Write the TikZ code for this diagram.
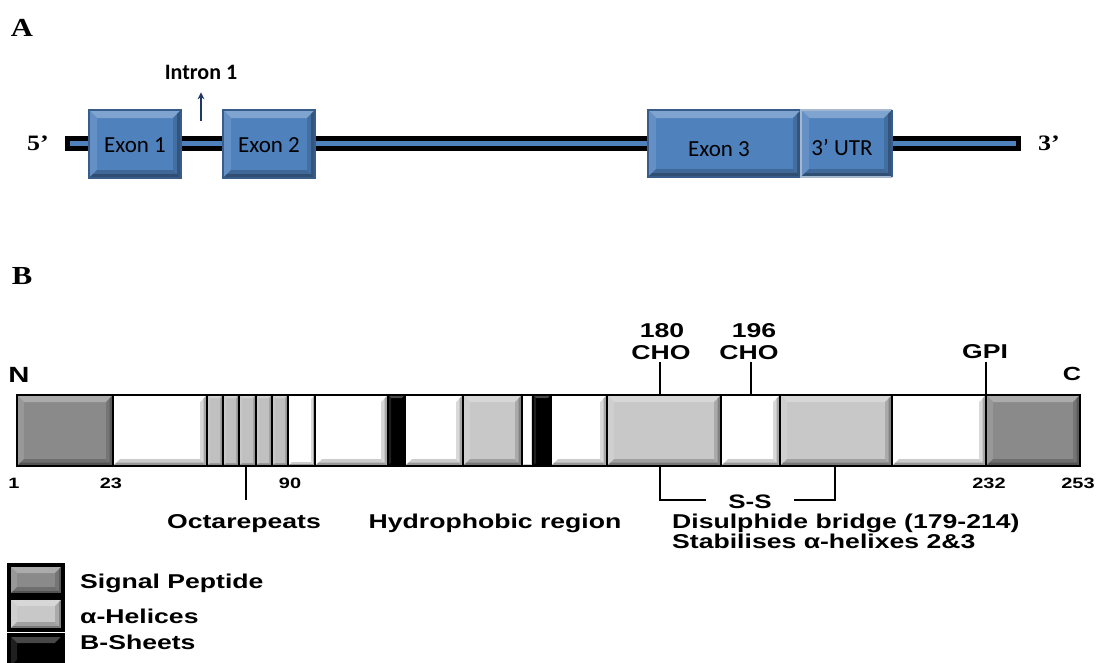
\documentclass[tikz,border=0pt]{standalone}
\usepackage{fontspec}
\setsansfont{Liberation Sans}
\newfontfamily\labfont[FakeStretch=1.33]{Liberation Sans}
\newfontfamily\serfont[FakeStretch=1.18]{Liberation Serif}
\newfontfamily\calfont{Carlito}
\usetikzlibrary{fit,arrows.meta}

\definecolor{sigc}{RGB}{138,138,138}
\definecolor{helc}{RGB}{200,200,200}
\definecolor{octc}{RGB}{192,192,192}
\definecolor{exonc}{RGB}{79,129,189}
\definecolor{exonline}{RGB}{56,93,138}
\definecolor{utrline}{RGB}{165,184,208}
\definecolor{navy}{RGB}{31,56,100}

\tikzset{
  seg/.style={fill=#1, inner sep=0pt, outer sep=0pt},
  segline/.style={draw=black, line width=2.4pt, line join=miter},
  lab/.style={font=\labfont\bfseries\fontsize{#1}{#1}\selectfont, inner sep=0pt, anchor=base},
  lab/.default=20,
  serlab/.style={font=\serfont\bfseries\fontsize{#1}{#1}\selectfont, inner sep=0pt, anchor=base},
  exlab/.style={font=\calfont\fontsize{23}{23}\selectfont, inner sep=0pt, anchor=base},
  tick/.style={draw=black, line width=2pt},
}

% raised-panel look inside a box node: [bevel width] node, colour
% (two bands per side give a soft edge)
\newcommand\bevelband[4]{% width, node, colour spec top/left/right/bottom
  \fill[#3] (#2.north west) -- (#2.north east) -- ([shift={(-#1,-#1)}]#2.north east)
    -- ([shift={(#1,-#1)}]#2.north west) -- cycle;
}
\newcommand\bevelize[3][7pt]{%
  \fill[#3!72!white]
    (#2.north west) -- (#2.north east) -- ([shift={(-#1,-#1)}]#2.north east)
    -- ([shift={(#1,-#1)}]#2.north west) -- cycle;
  \fill[#3!88!white]
    (#2.north west) -- ([shift={(#1,-#1)}]#2.north west)
    -- ([shift={(#1,#1)}]#2.south west) -- (#2.south west) -- cycle;
  \fill[#3!85!black]
    (#2.north east) -- ([shift={(-#1,-#1)}]#2.north east)
    -- ([shift={(-#1,#1)}]#2.south east) -- (#2.south east) -- cycle;
  \fill[#3!65!black]
    (#2.north east) -- ([shift={(-#1/2,-#1/2)}]#2.north east)
    -- ([shift={(-#1/2,#1/2)}]#2.south east) -- (#2.south east) -- cycle;
  \fill[#3!80!black]
    (#2.south west) -- ([shift={(#1,#1)}]#2.south west)
    -- ([shift={(-#1,#1)}]#2.south east) -- (#2.south east) -- cycle;
  \fill[#3!60!black]
    (#2.south west) -- ([shift={(#1/2,#1/2)}]#2.south west)
    -- ([shift={(-#1/2,#1/2)}]#2.south east) -- (#2.south east) -- cycle;
}

% protein segment: [bevel width] name, left x, right x, colour
\newcommand\protseg[5][7pt]{%
  \node[seg=#5, fit={(#3,395) (#4,466)}] (#2) {};
  \bevelize[#1]{#2}{#5}}

\begin{document}
\begin{tikzpicture}[x=1pt, y=-1pt]
\useasboundingbox (0,0) rectangle (1102,662);

% ---------------- A: gene structure ----------------
\node[serlab=26] (lA) at (22,36) {A};
\node[serlab=22] (five) at (38,150) {5’};
\node[serlab=22] (three) at (1049,150) {3’};

\fill[black] (65,136) rectangle (1021,151);
\fill[exonc] (70,141) rectangle (1016,146);

\node[seg=exonc, fit={(89,110) (181,178)}] (ex1) {};
\node[seg=exonc, fit={(223,110) (315,178)}] (ex2) {};
\node[seg=exonc, fit={(648,110) (801,177)}] (ex3) {};
\node[seg=exonc, fit={(801,110) (892,177)}] (utr) {};
\foreach \e in {ex1,ex2,ex3,utr} {\bevelize[8pt]{\e}{exonc}}
\foreach \e in {ex1,ex2,ex3}
  \draw[exonline, line width=1.4pt] (\e.south west) rectangle (\e.north east);
\draw[utrline, line width=1.6pt] (utr.south east) -- (utr.south west) -- (utr.north west) -- (utr.north east);
\draw[exonline, line width=1.4pt] (utr.north east) -- (utr.south east);

\node[exlab] (ex1t) at (135,152) {Exon 1};
\node[exlab] (ex2t) at (269,152) {Exon 2};
\node[exlab] (ex3t) at (719,156) {Exon 3};
\node[exlab] (utrt) at (842,155) {3’ UTR};

\node[font=\calfont\bfseries\fontsize{22}{22}\selectfont, inner sep=0pt, anchor=base] (intron) at (201,79) {Intron 1};
\coordinate (iarr) at (201,121);
\draw[navy, line width=2pt, -{Stealth[length=7pt,width=7pt]}] (iarr) -- ([yshift=-13pt]intron.south);

% ---------------- B: protein domains ----------------
\node[serlab=26] (lB) at (22,284) {B};

\protseg{sp1}{17}{113}{sigc}
\protseg{w1}{113}{207}{white}
\protseg[3pt]{o1}{207}{223}{octc}
\protseg[3pt]{o2}{223}{239}{octc}
\protseg[3pt]{o3}{239}{256}{octc}
\protseg[3pt]{o4}{256}{272}{octc}
\protseg[3pt]{o5}{272}{288}{octc}
\protseg[4pt]{w2}{288}{315}{white}
\protseg{w3}{315}{388}{white}
\protseg[3pt]{b1}{388}{405}{black}
\protseg{w4}{405}{463}{white}
\protseg{h1}{463}{522}{helc}
\protseg[2pt]{w5}{522}{533}{white}
\protseg[3pt]{b2}{533}{551}{black}
\protseg{w6}{551}{607}{white}
\protseg{h2}{607}{721}{helc}
\protseg{w7}{721}{780}{white}
\protseg{h3}{780}{892}{helc}
\protseg{w8}{892}{986}{white}
\protseg{sp2}{986}{1080}{sigc}
\foreach \s in {sp1,w1,o1,o2,o3,o4,o5,w2,w3,b1,w4,h1,w5,b2,w6,h2,w7,h3,w8,sp2}
  \draw[segline] (\s.south west) rectangle (\s.north east);

\node[lab=22] (nterm) at (19,382) {N};
\node[lab=19] (cterm) at (1072,380) {C};

\node[lab] (n180) at (662,337) {180};
\node[lab] (cho1) at (661,359) {CHO};
\node[lab] (n196) at (754,337) {196};
\node[lab] (cho2) at (749,359) {CHO};
\node[lab] (gpi) at (985,358) {GPI};
\coordinate (c180) at (660,362);
\coordinate (c196) at (751,362);
\coordinate (cgpi) at (986,362);
\draw[tick] (c180) -- (c180 |- h2.north);
\draw[tick] (c196) -- (c196 |- w7.north);
\draw[tick] (cgpi) -- (cgpi |- sp2.north);

\node[lab=15] (p1) at (14,488) {1};
\node[lab=15] (p23) at (111,488) {23};
\node[lab=15] (p90) at (290,488) {90};
\node[lab=15] (p232) at (989,488) {232};
\node[lab=15] (p253) at (1078,488) {253};

\coordinate (octtick) at (246,500);
\draw[tick] (octtick |- o3.south) -- (octtick);
\node[lab] (octlab) at (244,528) {Octarepeats};
\node[lab] (hydlab) at (495,528) {Hydrophobic region};

\node[lab=19.5] (ss) at (750,508) {S-S};
\coordinate (ssl) at (660,500);
\coordinate (ssr) at (835,500);
\draw[tick] (ssl |- h2.south) -- (ssl) -- ([xshift=-22pt]ss.west |- ssl);
\draw[tick] (ssr |- h3.south) -- (ssr) -- ([xshift=22pt]ss.east |- ssr);
\node[lab, anchor=base west] (disul) at (672,528) {Disulphide bridge (179-214)};
\node[lab, anchor=base west] (stab) at (672,548) {Stabilises α-helixes 2\&3};

% ---------------- legend ----------------
\node[seg=sigc, fit={(9,565) (63,595)}] (lg1) {};
\node[seg=helc, fit={(9,598) (63,630)}] (lg2) {};
\node[seg=black, fit={(9,635) (63,668)}] (lg3) {};
\bevelize[8pt]{lg1}{sigc}
\bevelize[8pt]{lg2}{helc}
\bevelize[8pt]{lg3}{black}
\foreach \s in {lg1,lg2,lg3}
  \draw[draw=black, line width=3.5pt] (\s.south west) rectangle (\s.north east);
\node[lab, anchor=base west] (lgt1) at (80,588) {Signal Peptide};
\node[lab, anchor=base west] (lgt2) at (80,623) {α-Helices};
\node[lab, anchor=base west] (lgt3) at (80,649) {B-Sheets};
\end{tikzpicture}
\end{document}
